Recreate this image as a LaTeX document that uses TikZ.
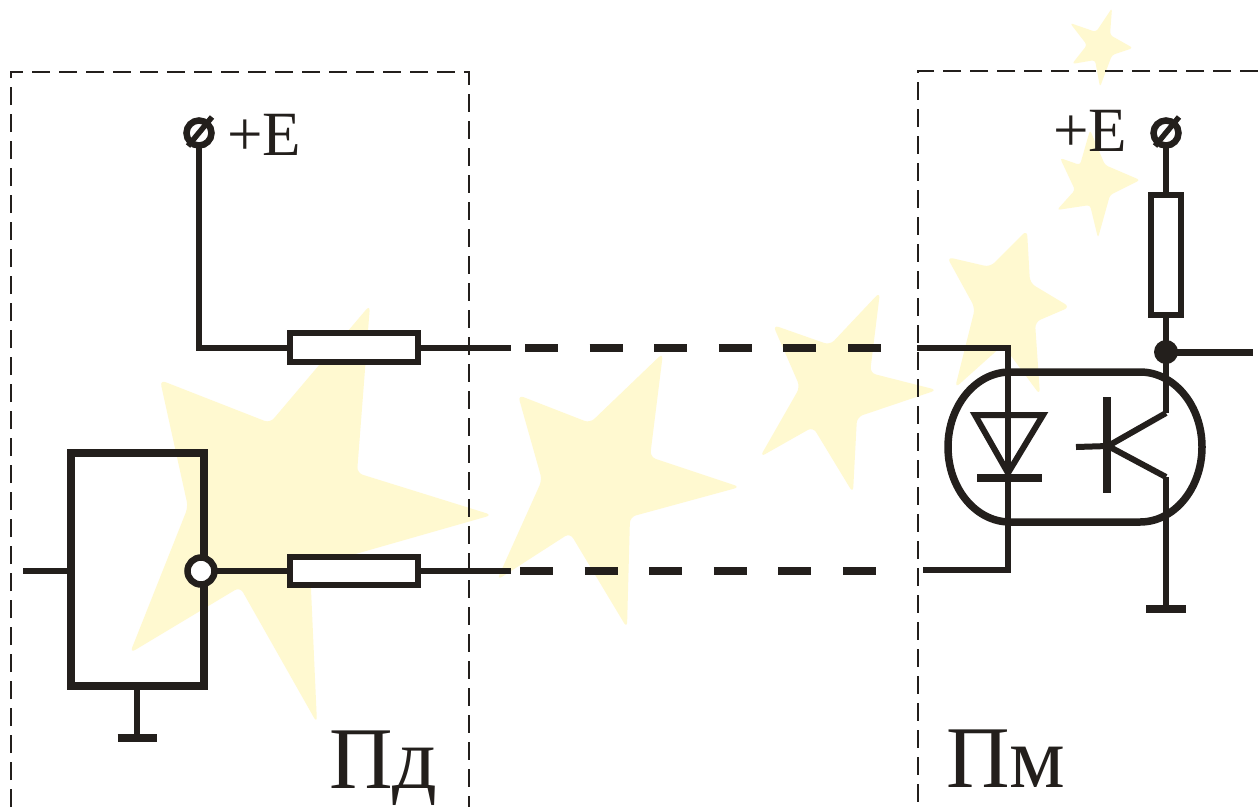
\documentclass[tikz,border=0pt]{standalone}
\usepackage{fontspec}
\setmainfont{Liberation Serif}
\usetikzlibrary{calc}
\definecolor{ink}{RGB}{35,31,28}
\definecolor{starfill}{RGB}{255,249,208}
\begin{document}
\begin{tikzpicture}[x=1pt,y=-1pt,
  wire/.style={ink,line width=6pt},
  boxline/.style={ink,line width=2.8pt,dash pattern=on 18pt off 9pt},
  linkdash/.style={ink,line width=8pt,dash pattern=on 33pt off 31.6pt},
  resistor/.style={draw=ink,line width=6.5pt,fill=white,rectangle,inner sep=0pt,outer sep=0pt},
  bar/.style={ink,line width=8.5pt},
  terminal/.style={circle,draw=ink,line width=6.5pt,minimum size=25pt,inner sep=0pt,outer sep=0pt},
  lbl/.style={text=ink,inner sep=0pt,outer sep=0pt,anchor=base west},
  starbg/.style={fill=starfill,draw=none,rounded corners=6pt},
]
\useasboundingbox (0,0) rectangle (1258,807);
\fill[white] (0,0) rectangle (1258,807);

% pale star watermark
\fill[starbg] (370,305) -- (357,473) -- (492,515) -- (310,567) -- (317,723) -- (240,587)
  -- (130,653) -- (188,507) -- (160,380) -- (270,423) -- cycle;
\fill[starbg] (663,353) -- (650,457) -- (740,487) -- (630,517) -- (627,628) -- (570,533)
  -- (497,580) -- (542,480) -- (518,395) -- (590,423) -- cycle;
\fill[starbg] (880,292) -- (870,373) -- (937,390) -- (857,417) -- (853,493) -- (813,427)
  -- (760,457) -- (800,387) -- (773,325) -- (830,345) -- cycle;
\fill[starbg] (1027,230) -- (1030,283) -- (1070,307) -- (1035,322) -- (1040,395) -- (1003,345)
  -- (955,388) -- (975,308) -- (947,257) -- (990,267) -- cycle;
\fill[starbg,rounded corners=3pt] (1090,130) -- (1105,165) -- (1140,180) -- (1110,195) -- (1098,238) -- (1090,205)
  -- (1057,210) -- (1075,190) -- (1060,158) -- (1080,165) -- cycle;
\fill[starbg,rounded corners=3pt] (1112,8) -- (1110,35) -- (1133,48) -- (1112,55) -- (1100,87) -- (1095,60)
  -- (1072,64) -- (1087,45) -- (1070,23) -- (1096,32) -- cycle;

% module borders
\draw[boxline] (11,807) -- (11,72) -- (469,72) -- (469,807);
\draw[boxline] (1258,71) -- (918,71) -- (918,807);

% ---------- sender module ----------
\node[terminal] (tL) at (199,133) {};
\draw[ink,line width=5.5pt] ([shift={(-11,13)}]tL.center) -- ([shift={(13,-16)}]tL.center);
\node[lbl,font=\fontsize{63}{63}\selectfont] (eL) at (227,155) {+E};

\node[resistor,minimum width=128pt,minimum height=29pt] (R1) at (354,347.5) {};
\node[resistor,minimum width=128pt,minimum height=28pt] (R3) at (354,571) {};

\node[draw=ink,line width=7.5pt,rectangle,minimum width=133pt,minimum height=233pt,
      inner sep=0pt,outer sep=0pt] (blk) at (137.5,569.5) {};
\node[circle,draw=ink,fill=white,line width=6.5pt,minimum size=27pt,inner sep=0pt,outer sep=0pt]
  (inv) at (201,571) {};

\coordinate (cL) at (199,347.5);
\draw[wire,line join=miter] (tL.south) -- (cL) -- (R1.west);

\coordinate (inL) at (23,571);
\draw[wire] (inL) -- (inL -| blk.west);
\draw[wire] (inv.east) -- (R3.west);

\coordinate (gL) at (137,738);
\draw[wire] (blk.south -| gL) -- (gL);
\draw[bar] ([xshift=-19.5pt]gL) -- ([xshift=19.5pt]gL);

\node[lbl,font=\fontsize{88}{88}\selectfont] (pd) at (329,788) {Пд};

% ---------- link lines ----------
\coordinate (t1) at (511,347.5);
\coordinate (t2) at (525,347.5);
\coordinate (t3) at (881,347.5);
\coordinate (t4) at (917,347.5);
\draw[wire] (R1.east) -- (t1);
\draw[linkdash] (t2) -- (t3);

\coordinate (b1) at (511,571);
\coordinate (b2) at (520,571);
\coordinate (b3) at (876,571);
\coordinate (b4) at (923,570);
\draw[wire] (R3.east) -- (b1);
\draw[linkdash] (b2) -- (b3);

% ---------- receiver module ----------
\coordinate (dA) at (1008,347.5);
\coordinate (dK) at (1008,570);
\draw[wire,line join=miter] (t4) -- (dA) -- (dK) -- (b4);

% photodiode
\draw[ink,line width=6pt,line join=miter] (975,415) -- (1043,415) -- (1008,473) -- cycle;
\draw[bar] (977,478) -- (1042,478);

% optocoupler housing
\draw[ink,line width=7.5pt] (1010,372) -- (1140,372)
  .. controls (1174.2,372) and (1202,405.6) .. (1202,447)
  .. controls (1202,488.4) and (1174.2,522) .. (1140,522)
  -- (1010,522)
  .. controls (975.8,522) and (948,488.4) .. (948,447)
  .. controls (948,405.6) and (975.8,372) .. (1010,372) -- cycle;

% phototransistor
\coordinate (bs) at (1108,446);
\coordinate (col) at (1166,413);
\coordinate (emi) at (1166,477);
\draw[bar] (1107,397) -- (1107,493);
\draw[wire] (1076,447) -- (bs);
\draw[wire] (bs) -- (col);
\draw[wire] (bs) -- (emi);

\node[terminal] (tR) at (1166,133) {};
\draw[ink,line width=5.5pt] ([shift={(-11,13)}]tR.center) -- ([shift={(13,-16)}]tR.center);
\node[lbl,font=\fontsize{63}{63}\selectfont] (eR) at (1053,151) {+E};

\node[resistor,minimum width=30pt,minimum height=120pt] (R2) at (1166,255) {};
\node[circle,fill=ink,minimum size=24pt,inner sep=0pt,outer sep=0pt] (J) at (1166,352) {};
\coordinate (out) at (1253,352);
\coordinate (gR) at (1166,609);

\draw[wire] (tR.south) -- (R2.north);
\draw[wire] (R2.south) -- (J.center) -- (col);
\draw[wire,line width=7pt] (J.center) -- (out);
\draw[wire] (emi) -- (gR);
\draw[bar] ([xshift=-20pt]gR) -- ([xshift=20pt]gR);

\node[lbl,font=\fontsize{88}{88}\selectfont] (pm) at (946,787) {Пм};
\end{tikzpicture}
\end{document}
